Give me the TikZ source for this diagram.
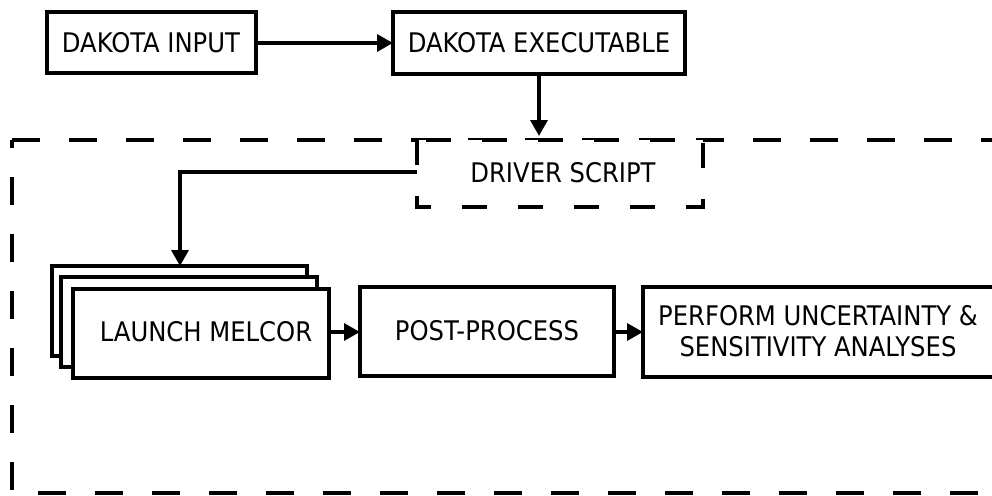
\documentclass[tikz,border=0pt]{standalone}
\usepackage{fontspec}
\setmainfont{DejaVu Sans Condensed}
\usetikzlibrary{arrows.meta}
\begin{document}
\begin{tikzpicture}[x=1pt,y=-1pt,
  box/.style={draw,line width=3.3pt,fill=white},
  lbl/.style={font=\fontsize{27}{31}\selectfont,align=center},
  arr/.style={line width=3.3pt,-{Triangle[width=17pt,length=16pt]}},
  outer/.style={line width=3.3pt,dash pattern=on 28pt off 29pt},
  drv/.style={line width=3.3pt,dash pattern=on 25pt off 31pt}]
\useasboundingbox (0,0) rectangle (992,495);
\begin{scope}
\clip (0,0) rectangle (992,495);
% outer dashed region
\draw[outer] (12,140) -- (1010,140);
\draw[outer,dash phase=20pt] (12,140) -- (12,493) -- (1010,493);
% driver script dashed box
\draw[drv,fill=white] (417,140) -- (417,207) -- (703,207) -- (703,140) -- cycle;
\node[lbl] (drv) at (563,173) {DRIVER SCRIPT};
\coordinate (drvL) at (417,172);
% top boxes
\draw[box] (47,12) rectangle (256,73);
\node[lbl] (inp) at (151,43) {DAKOTA INPUT};
\coordinate (inpR) at (256,43);
\draw[box] (393,12) rectangle (685,74);
\node[lbl] (exe) at (539,43) {DAKOTA EXECUTABLE};
\coordinate (exeL) at (393,43);
\coordinate (exeB) at (539,74);
\coordinate (drvT) at (539,136);
% stacked launch boxes
\draw[box] (52,266) rectangle (307,356);
\draw[box] (61,277) rectangle (317,367);
\draw[box] (73,289) rectangle (329,378);
\node[lbl] (mel) at (206,332) {LAUNCH MELCOR};
\coordinate (stackT) at (180,266);
\coordinate (melR) at (329,332);
% post-process
\draw[box] (360,287) rectangle (614,376);
\node[lbl] (pp) at (487,331) {POST-PROCESS};
\coordinate (ppL) at (360,332);
\coordinate (ppR) at (614,332);
% perform
\draw[box] (643,287) rectangle (994,377);
\node[lbl] (perf) at (818,331) {PERFORM UNCERTAINTY \&\\SENSITIVITY ANALYSES};
\coordinate (perfL) at (643,332);
% connectors
\draw[arr] (inpR) -- (exeL);
\draw[arr] (exeB) -- (drvT);
\draw[arr] (drvL) -- (180,172) -- (stackT);
\draw[arr] (melR) -- (ppL);
\draw[arr] (ppR) -- (perfL);
\end{scope}
\end{tikzpicture}
\end{document}
